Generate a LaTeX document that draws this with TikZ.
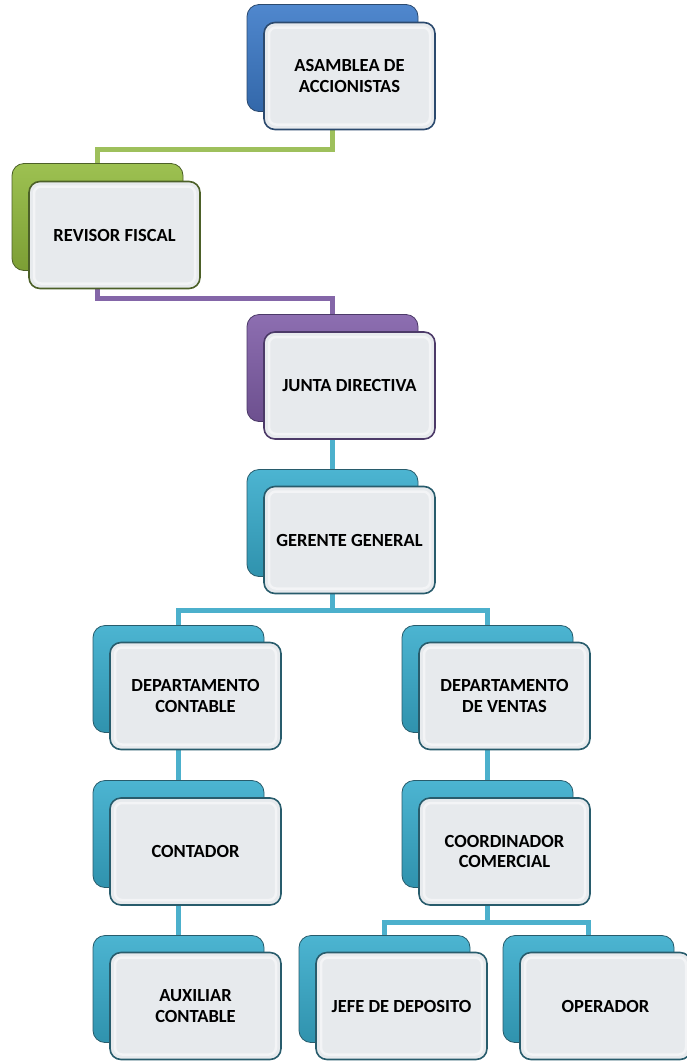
\documentclass[tikz,border=0pt]{standalone}
\usepackage{fontspec}
\setmainfont{Carlito}
\usepackage{tikz}
\usetikzlibrary{backgrounds}

\definecolor{azul}{RGB}{60,122,200}
\definecolor{azulosc}{RGB}{44,74,110}
\definecolor{verde}{RGB}{146,186,62}
\definecolor{verdeosc}{RGB}{76,96,40}
\definecolor{morado}{RGB}{128,94,168}
\definecolor{moradoosc}{RGB}{76,58,104}
\definecolor{turq}{RGB}{56,172,204}
\definecolor{turqosc}{RGB}{40,92,108}
\definecolor{gris}{RGB}{231,234,237}
\definecolor{lverde}{RGB}{158,192,92}
\definecolor{lmorado}{RGB}{132,102,168}
\definecolor{lturq}{RGB}{76,176,204}

\begin{document}
\begin{tikzpicture}[x=1pt,y=-1pt,
  fondo/.style={rectangle, rounded corners=12pt, minimum width=171pt, minimum height=107pt, line width=0.8pt},
  frente/.style={rectangle, rounded corners=11pt, minimum width=171pt, minimum height=107pt, line width=1.6pt,
    fill=gris, align=center, inner sep=0pt, font=\fontsize{18.5}{20.5}\selectfont\bfseries,
    path picture={\draw[white, line width=2.5pt, opacity=0.5, rounded corners=7pt]
      ([shift={(5pt,-5pt)}]path picture bounding box.north west) rectangle
      ([shift={(-5pt,5pt)}]path picture bounding box.south east);}},
  linea/.style={line width=5pt}]
\useasboundingbox (0,0) rectangle (686,1061);

% cajas
\node[fondo, draw=azulosc, top color=azul!90!white, bottom color=azul!85!black] (asambleaB) at (332.5,58) {};
\node[frente, draw=azulosc] (asamblea) at (349.5,76) {ASAMBLEA DE\\ACCIONISTAS};

\node[fondo, draw=verdeosc, top color=verde!90!white, bottom color=verde!85!black] (revisorB) at (97.5,217) {};
\node[frente, draw=verdeosc] (revisor) at (114.5,235) {REVISOR FISCAL};

\node[fondo, draw=moradoosc, top color=morado!90!white, bottom color=morado!85!black] (juntaB) at (332.5,368) {};
\node[frente, draw=moradoosc] (junta) at (349.5,385.5) {JUNTA DIRECTIVA};

\node[fondo, draw=turqosc, top color=turq!90!white, bottom color=turq!85!black] (gerenteB) at (332.5,523) {};
\node[frente, draw=turqosc] (gerente) at (349.5,540) {GERENTE GENERAL};

\node[fondo, draw=turqosc, top color=turq!90!white, bottom color=turq!85!black] (dcontB) at (178.5,679) {};
\node[frente, draw=turqosc] (dcont) at (195.5,696) {DEPARTAMENTO\\CONTABLE};

\node[fondo, draw=turqosc, top color=turq!90!white, bottom color=turq!85!black] (dventB) at (487.5,679) {};
\node[frente, draw=turqosc] (dvent) at (504.5,696) {DEPARTAMENTO\\DE VENTAS};

\node[fondo, draw=turqosc, top color=turq!90!white, bottom color=turq!85!black] (contadorB) at (178.5,834) {};
\node[frente, draw=turqosc] (contador) at (195.5,851.5) {CONTADOR};

\node[fondo, draw=turqosc, top color=turq!90!white, bottom color=turq!85!black] (coordB) at (487.5,834) {};
\node[frente, draw=turqosc] (coord) at (504.5,851.5) {COORDINADOR\\COMERCIAL};

\node[fondo, draw=turqosc, top color=turq!90!white, bottom color=turq!85!black] (auxB) at (178.5,989) {};
\node[frente, draw=turqosc] (aux) at (195.5,1006) {AUXILIAR\\CONTABLE};

\node[fondo, draw=turqosc, top color=turq!90!white, bottom color=turq!85!black] (jefeB) at (384.5,989) {};
\node[frente, draw=turqosc] (jefe) at (401.5,1006) {JEFE DE DEPOSITO};

\node[fondo, draw=turqosc, top color=turq!90!white, bottom color=turq!85!black] (operB) at (588.5,989) {};
\node[frente, draw=turqosc] (oper) at (605.5,1006) {OPERADOR};

% lineas
\coordinate (codo1) at (97.5,149);
\coordinate (codo2) at (332.5,298);
\coordinate (barra1) at (332.5,610);
\coordinate (barra2) at (487.5,922);
\begin{scope}[on background layer]
\draw[linea, lverde] (asambleaB) |- (codo1) -- (revisorB);
\draw[linea, lmorado] (revisorB) |- (codo2) -- (juntaB);
\draw[linea, lturq] (juntaB) -- (gerenteB);
\draw[linea, lturq] (gerenteB) -- (barra1) -| (dcontB);
\draw[linea, lturq] (barra1) -| (dventB);
\draw[linea, lturq] (dcontB) -- (contadorB);
\draw[linea, lturq] (contadorB) -- (auxB);
\draw[linea, lturq] (dventB) -- (coordB);
\draw[linea, lturq] (coordB) -- (barra2) -| (jefeB);
\draw[linea, lturq] (barra2) -| (operB);
\end{scope}
\end{tikzpicture}
\end{document}
